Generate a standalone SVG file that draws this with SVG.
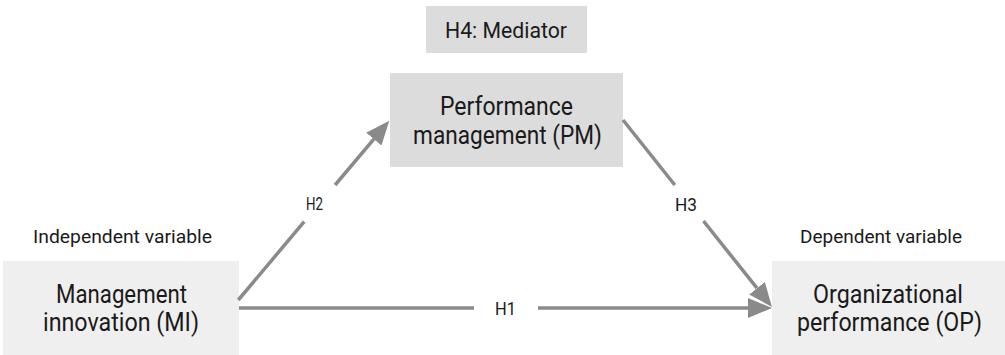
<svg xmlns="http://www.w3.org/2000/svg" width="1005" height="355" viewBox="0 0 1005 355">
  <style>
    text { font-family: Roboto, "Liberation Sans", sans-serif; fill: #1a1a1a; text-anchor: middle; }
    .big { font-size: 25px; }
    .small { font-size: 17.5px; }
    .lbl { font-size: 18px; }
    .mid { font-size: 22.5px; }
    .dark { fill: #dcdcdc; }
    .light { fill: #efefef; }
    .conn { stroke: #8a8a8a; stroke-width: 3.5; fill: none; }
  </style>
  <defs>
    <marker id="arrow" markerUnits="userSpaceOnUse" markerWidth="24" markerHeight="20" refX="0" refY="10" orient="auto" viewBox="0 0 24 20">
      <path d="M0,0 L24,10 L0,20 z" fill="#8a8a8a"/>
    </marker>
  </defs>
  <rect width="1005" height="355" fill="#ffffff"/>

  <g id="mediator-label">
    <rect class="dark" x="426" y="6" width="161" height="47"/>
    <text class="mid" x="506" y="38" textLength="122" lengthAdjust="spacingAndGlyphs">H4: Mediator</text>
  </g>

  <g id="pm">
    <rect class="dark" x="390" y="73" width="233" height="94"/>
    <text class="big" x="506.5" y="115" textLength="133" lengthAdjust="spacingAndGlyphs">Performance</text>
    <text class="big" x="507.5" y="144" textLength="189" lengthAdjust="spacingAndGlyphs">management (PM)</text>
  </g>

  <g id="mi">
    <text class="small" x="122.5" y="243" textLength="179" lengthAdjust="spacingAndGlyphs">Independent variable</text>
    <rect class="light" x="3" y="261" width="236" height="94"/>
    <text class="big" x="121.5" y="303" textLength="131" lengthAdjust="spacingAndGlyphs">Management</text>
    <text class="big" x="121" y="331" textLength="156" lengthAdjust="spacingAndGlyphs">innovation (MI)</text>
  </g>

  <g id="op">
    <text class="small" x="881" y="243" textLength="162" lengthAdjust="spacingAndGlyphs">Dependent variable</text>
    <rect class="light" x="772" y="261" width="233" height="94"/>
    <text class="big" x="888" y="303" textLength="150" lengthAdjust="spacingAndGlyphs">Organizational</text>
    <text class="big" x="889.5" y="331" textLength="185" lengthAdjust="spacingAndGlyphs">performance (OP)</text>
  </g>

  <g id="connectors">
    <!-- H1 -->
    <line class="conn" x1="239" y1="308" x2="474" y2="308"/>
    <line class="conn" x1="538" y1="308" x2="748" y2="308" marker-end="url(#arrow)"/>
    <text class="lbl" x="505.5" y="314.5" textLength="21" lengthAdjust="spacingAndGlyphs">H1</text>
    <!-- H2 -->
    <line class="conn" x1="238.3" y1="300" x2="304.2" y2="221.7"/>
    <line class="conn" x1="335.1" y1="185" x2="373.8" y2="139.1" marker-end="url(#arrow)"/>
    <text class="lbl" x="314.5" y="209.5" textLength="17" lengthAdjust="spacingAndGlyphs">H2</text>
    <!-- H3 -->
    <line class="conn" x1="623" y1="120" x2="674.8" y2="185"/>
    <line class="conn" x1="703.5" y1="221" x2="757" y2="288.2" marker-end="url(#arrow)"/>
    <text class="lbl" x="686" y="211" textLength="22" lengthAdjust="spacingAndGlyphs">H3</text>
  </g>
</svg>
